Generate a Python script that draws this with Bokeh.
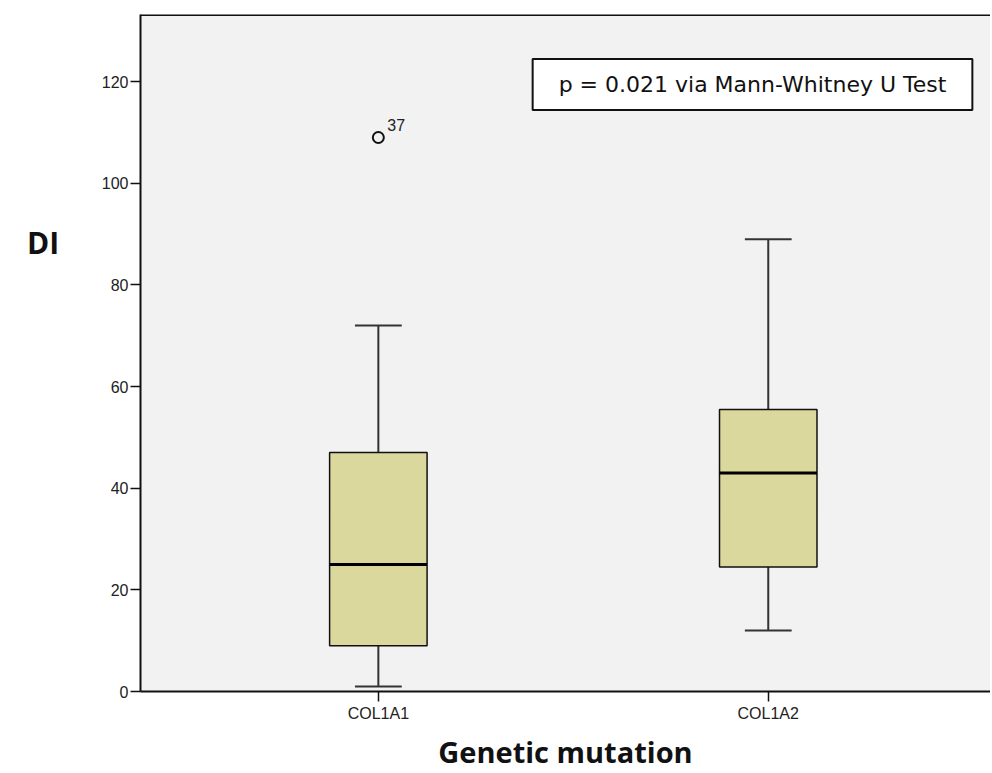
from bokeh.plotting import figure
from bokeh.models import Range1d, FixedTicker, Label, Span, ColumnDataSource, Div
from bokeh.layouts import row
from bokeh.core.properties import value
from bokeh.embed import file_html
from bokeh.resources import INLINE

# ---- data ----
categories = ["COL1A1", "COL1A2"]
whisker_low = [1, 12]
q1 = [9, 24.5]
median = [25, 43]
q3 = [47, 55.5]
whisker_high = [72, 89]
outlier_group = ["COL1A1"]
outlier_value = [109]
outlier_label = ["37"]
y_ticks = [0, 20, 40, 60, 80, 100, 120]
annotation = "p = 0.021 via Mann-Whitney U Test"
y_title = "DI"
x_title = "Genetic mutation"

xpos = [i + 1 for i in range(len(categories))]
box_w = 0.25
cap_w = 0.12

src = ColumnDataSource(dict(
    x=xpos, lo=whisker_low, q1=q1, med=median, q3=q3, hi=whisker_high,
    x0=[x - box_w / 2 for x in xpos], x1=[x + box_w / 2 for x in xpos],
    c0=[x - cap_w / 2 for x in xpos], c1=[x + cap_w / 2 for x in xpos],
))
osrc = ColumnDataSource(dict(
    x=[xpos[categories.index(g)] for g in outlier_group],
    y=outlier_value, t=outlier_label,
))

p = figure(width=892, height=773, output_backend="svg", toolbar_location=None,
           x_range=Range1d(0.39, 2.57), y_range=Range1d(0, 133.2),
           min_border_left=40, min_border_right=0, min_border_top=14,
           min_border_bottom=82)
p.background_fill_color = "#f2f2f2"
p.border_fill_color = "white"
p.outline_line_color = None
p.xgrid.visible = False
p.ygrid.visible = False

# whiskers
p.segment("x", "q3", "x", "hi", source=src, line_color="#333333", line_width=2)
p.segment("x", "lo", "x", "q1", source=src, line_color="#333333", line_width=2)
p.segment("c0", "hi", "c1", "hi", source=src, line_color="#333333", line_width=2)
p.segment("c0", "lo", "c1", "lo", source=src, line_color="#333333", line_width=2)
# boxes
p.vbar(x="x", width=box_w, bottom="q1", top="q3", source=src,
       fill_color="#dbd89e", line_color="#111111", line_width=1.5)
p.segment("x0", "med", "x1", "med", source=src, line_color="#000000", line_width=3)
# outlier
p.scatter("x", "y", source=osrc, size=11, fill_color=None, line_color="#111111", line_width=2)
p.text("x", "y", text="t", source=osrc, x_offset=9, y_offset=-6,
       text_font=value("Liberation Sans"), text_font_size="16px",
       text_color="#222222", text_baseline="bottom", text_align="left")

# top border
p.add_layout(Span(location=133.2, dimension="width", line_color="#111111", line_width=3))

# axes
p.xaxis.ticker = FixedTicker(ticks=xpos)
p.xaxis.major_label_overrides = {x: c for x, c in zip(xpos, categories)}
p.xaxis.minor_tick_line_color = None
p.yaxis.ticker = FixedTicker(ticks=y_ticks)
p.yaxis.minor_tick_line_color = None
for ax in (p.xaxis, p.yaxis):
    ax.axis_line_color = "#111111"
    ax.axis_line_width = 2
    ax.major_tick_line_color = "#111111"
    ax.major_tick_line_width = 1.5
    ax.major_tick_in = 0
    ax.major_tick_out = 10
    ax.major_label_text_font = "Liberation Sans"
    ax.major_label_text_color = "#222222"
    ax.major_label_text_font_size = "16px"
p.xaxis.major_label_standoff = 3
p.yaxis.major_label_standoff = 2

p.xaxis.axis_label = x_title
p.xaxis.axis_label_text_font = "Open Sans"
p.xaxis.axis_label_text_font_style = "bold"
p.xaxis.axis_label_text_font_size = "29px"
p.xaxis.axis_label_text_color = "#111111"
p.xaxis.axis_label_standoff = 7

p.add_layout(Label(x=612, y=607, x_units="screen", y_units="screen", text=annotation,
                   text_font="DejaVu Sans", text_font_size="22px", text_color="#111111",
                   text_align="center", text_baseline="middle",
                   background_fill_color="white", border_line_color="#111111",
                   border_line_width=2, padding=(26, 13)))

ylab = Div(text=y_title, width=88, height=773,
           styles={"font-family": "Open Sans", "font-weight": "bold",
                   "font-size": "30px", "color": "#111111",
                   "padding-top": "217px", "padding-left": "22px",
                   "background-color": "white"})

layout = row(ylab, p, spacing=0)
open("out.html", "w").write(file_html(layout, INLINE))
